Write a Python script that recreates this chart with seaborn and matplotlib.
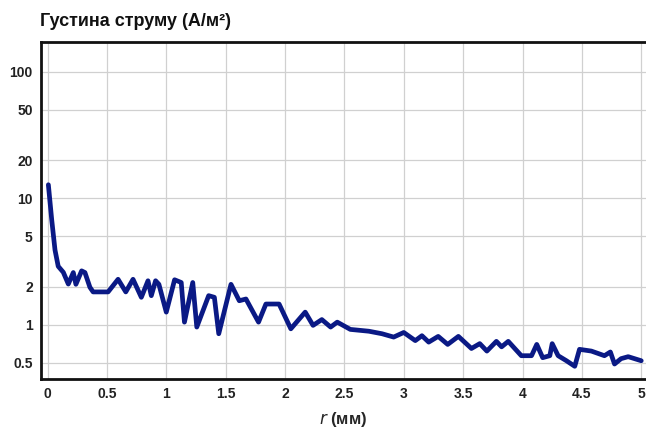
import matplotlib
matplotlib.use("Agg")
import matplotlib.pyplot as plt
import seaborn as sns
import pandas as pd

r_mm = [0.007, 0.035, 0.063, 0.09, 0.133, 0.175, 0.217, 0.239, 0.287, 0.315, 0.357, 0.384,
        0.51, 0.594, 0.659, 0.72, 0.79, 0.846, 0.874, 0.91, 0.938, 1.0, 1.07, 1.126, 1.153,
        1.223, 1.257, 1.357, 1.405, 1.442, 1.545, 1.615, 1.671, 1.777, 1.839, 1.95, 2.049,
        2.17, 2.236, 2.31, 2.384, 2.44, 2.55, 2.706, 2.817, 2.915, 3.0, 3.097, 3.153, 3.21,
        3.29, 3.37, 3.46, 3.57, 3.64, 3.70, 3.78, 3.824, 3.88, 3.99, 4.076, 4.12, 4.17, 4.23,
        4.25, 4.30, 4.37, 4.44, 4.48, 4.58, 4.69, 4.74, 4.775, 4.83, 4.89, 5.0]
density = [12.8, 6.8, 3.9, 2.9, 2.6, 2.1, 2.59, 2.09, 2.67, 2.59, 1.98, 1.82,
           1.82, 2.29, 1.82, 2.29, 1.65, 2.23, 1.70, 2.23, 2.09, 1.26, 2.27, 2.16, 1.05,
           2.16, 0.96, 1.70, 1.65, 0.85, 2.09, 1.55, 1.60, 1.05, 1.46, 1.46, 0.93,
           1.26, 0.99, 1.10, 0.96, 1.05, 0.92, 0.89, 0.85, 0.80, 0.87, 0.75, 0.82, 0.73,
           0.81, 0.70, 0.81, 0.65, 0.71, 0.62, 0.74, 0.67, 0.74, 0.57, 0.57, 0.70, 0.55, 0.57,
           0.71, 0.57, 0.52, 0.47, 0.64, 0.62, 0.57, 0.61, 0.49, 0.54, 0.56, 0.52]

x_ticks = [0, 0.5, 1, 1.5, 2, 2.5, 3, 3.5, 4, 4.5, 5]
x_tick_labels = ["0", "0.5", "1", "1.5", "2", "2.5", "3", "3.5", "4", "4.5", "5"]
y_ticks = [0.5, 1, 2, 5, 10, 20, 50, 100]
y_tick_labels = ["0.5", "1", "2", "5", "10", "20", "50", "100"]

title = "Густина струму (А/м²)"

df = pd.DataFrame({"r": r_mm, "j": density})

sns.set_style("white")
plt.rcParams["font.family"] = ["Liberation Sans", "DejaVu Sans"]

fig = plt.figure(figsize=(6.46, 4.32), dpi=100)
ax = fig.add_axes([41 / 646, 1 - 379 / 432, 1 - 41 / 646, (379 - 42) / 432])

sns.lineplot(data=df, x="r", y="j", ax=ax, color="#0a1985", linewidth=3.4,
             solid_joinstyle="round", solid_capstyle="round")
ax.set_yscale("log")
ax.set_xlim(-0.055, 5.04)
ax.set_ylim(0.373, 172)

ax.set_xticks(x_ticks)
ax.set_xticklabels(x_tick_labels, fontweight="bold", fontsize=10)
ax.set_yticks(y_ticks)
ax.set_yticklabels(y_tick_labels, fontweight="bold", fontsize=10)
ax.minorticks_off()
ax.tick_params(axis="both", length=0, pad=6, colors="#222222")

ax.grid(True, color="#d0d0d0", linewidth=0.9)
for s in ["left", "top", "bottom"]:
    ax.spines[s].set_color("#111111")
    ax.spines[s].set_linewidth(2.0)
ax.spines["right"].set_visible(False)

ax.set_ylabel("")
ax.set_xlabel(r"$\mathit{r}$ (мм)", fontsize=12, fontweight="bold", labelpad=6)
ax.xaxis.label.set_math_fontfamily("dejavusans")

fig.text(40 / 646, 1 - 21 / 432, title, fontsize=13, fontweight="bold",
         ha="left", va="center", color="#111111")

fig.savefig("out.png", dpi=100)
